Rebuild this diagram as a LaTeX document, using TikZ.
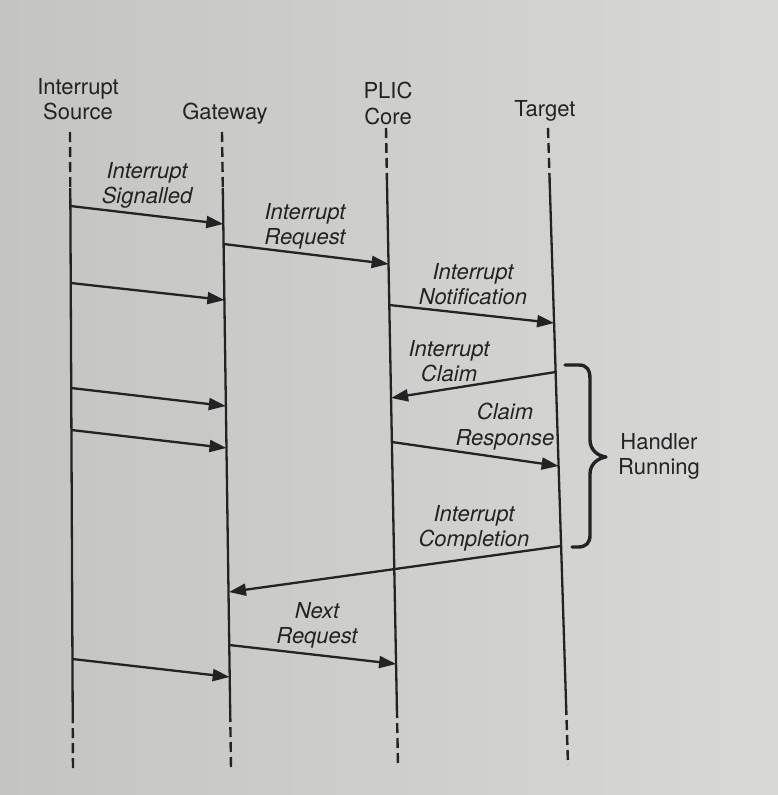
\documentclass[tikz,border=0pt]{standalone}
\usepackage{fontspec}
\setmainfont{TeX Gyre Heros}
\usetikzlibrary{arrows.meta,calc}
\definecolor{ink}{HTML}{232323}
\definecolor{paperL}{HTML}{C4C4C2}
\definecolor{paperR}{HTML}{D8D8D6}
\begin{document}
\begin{tikzpicture}[x=1pt,y=-1pt,
  hdr/.style={font=\fontsize{22}{25.5}\selectfont, text=ink, align=center, inner sep=0pt, anchor=north},
  lbl/.style={font=\fontsize{22}{25.5}\selectfont\itshape, text=ink, align=center, inner sep=0pt, anchor=north},
  msg/.style={draw=ink, line width=2.3pt, -{Triangle[length=17pt,width=12pt]}},
  life/.style={draw=ink, line width=2.3pt},
  lifedash/.style={draw=ink, line width=2.4pt, dash pattern=on 10pt off 5pt},
  bracepath/.style={draw=ink, line width=3.4pt, line cap=round, line join=round}]
\shade[left color=paperL, right color=paperR] (0,0) rectangle (778,795);
\useasboundingbox (0,0) rectangle (778,795);

% headers
\node[hdr] (src)  at (78,78)  {Interrupt\\Source};
\node[hdr] (gw)   at (225,103) {Gateway};
\node[hdr] (plic) at (388,82) {PLIC\\Core};
\node[hdr] (tgt)  at (545,100) {Target};

% lifeline coordinates
\coordinate (sT) at (70,132);   \coordinate (sA) at (70.3,188);  \coordinate (sZ) at (72.7,713); \coordinate (sB) at (73,772);
\coordinate (gT) at (222,132);  \coordinate (gA) at (222.8,188); \coordinate (gZ) at (230.2,712); \coordinate (gB) at (231,769);
\coordinate (pT) at (386,128);  \coordinate (pA) at (387,183);   \coordinate (pZ) at (396.9,708); \coordinate (pB) at (398,767);
\coordinate (tT) at (548,128);  \coordinate (tA) at (549.7,183); \coordinate (tZ) at (566.1,705); \coordinate (tB) at (568,765);

\foreach \l in {s,g,p,t}{
  \draw[lifedash] (\l T) -- (\l A);
  \draw[life] (\l A) -- (\l Z);
  \draw[lifedash] (\l Z) -- (\l B);
}

% message end points
\coordinate (m1a) at (70.3,206);  \coordinate (m1b) at (223.3,224);
\coordinate (m2a) at (223.6,244); \coordinate (m2b) at (388.6,264);
\coordinate (m3a) at (70.7,283);  \coordinate (m3b) at (224.4,300);
\coordinate (m4a) at (389.3,305); \coordinate (m4b) at (554.1,323);
\coordinate (m5a) at (555.7,372); \coordinate (m5b) at (391.1,398);
\coordinate (m6a) at (71.2,388);  \coordinate (m6b) at (225.8,406);
\coordinate (m7a) at (71.4,430);  \coordinate (m7b) at (226.5,448);
\coordinate (m8a) at (391.9,442); \coordinate (m8b) at (558.6,466);
\coordinate (m9a) at (561.1,546); \coordinate (m9b) at (229.0,592);
\coordinate (m10a) at (229.3,645); \coordinate (m10b) at (396.1,664);
\coordinate (m11a) at (72.5,659);  \coordinate (m11b) at (229.7,677);

\foreach \m in {1,...,11}{ \draw[msg] (m\m a) -- (m\m b); }

% message labels
\node[lbl] (l1) at (147,162) {Interrupt\\Signalled};
\node[lbl] (l2) at (305,203) {Interrupt\\Request};
\node[lbl] (l4) at (473,263) {Interrupt\\Notification};
\node[lbl] (l5) at (449,340) {Interrupt\\Claim};
\node[lbl] (l8) at (505,403) {Claim\\Response};
\node[lbl] (l9) at (474,505) {Interrupt\\Completion};
\node[lbl] (l10) at (317,602) {Next\\Request};

% brace
\draw[bracepath] (565,365) -- (579,365) .. controls (587,365) and (590,370) .. (590,379)
  -- (590,440) .. controls (590,450) and (598,456) .. (606,457)
  .. controls (598,458) and (590,464) .. (590,474)
  -- (590,535) .. controls (590,543) and (586,547) .. (578,547) -- (572,547);
\node[hdr] (hr) at (659,433) {Handler\\Running};
\end{tikzpicture}
\end{document}
